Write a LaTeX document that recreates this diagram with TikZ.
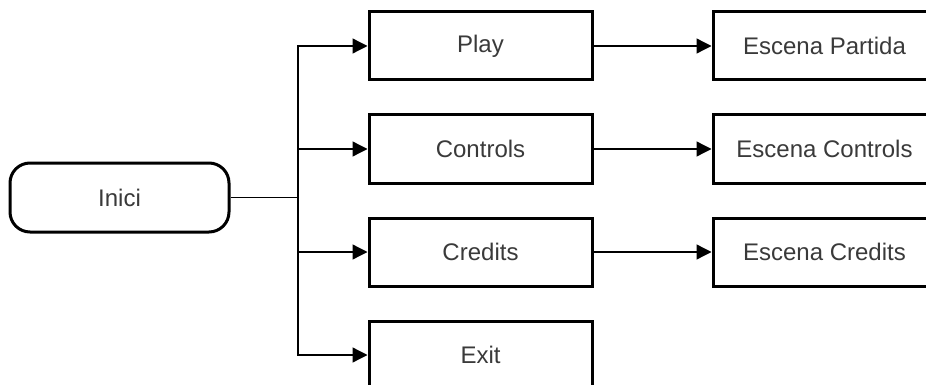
\documentclass[tikz,border=0pt]{standalone}
\usepackage{fontspec}
\setmainfont{Liberation Sans}
\usetikzlibrary{arrows.meta}
\definecolor{txt}{HTML}{3A3A3A}
\tikzset{
  box/.style={draw=black, line width=1.5pt, fill=white, minimum width=111.5pt, minimum height=34pt, inner sep=0pt, text=txt, font=\fontsize{12}{14}\selectfont},
  startbox/.style={box, rounded corners=10pt, minimum width=109.5pt, minimum height=34.5pt},
  conn/.style={draw=black, line width=0.65pt},
  arr/.style={conn, -{Triangle[length=7.5pt,width=7.5pt]}}
}
\begin{document}
\begin{tikzpicture}[x=0.5pt,y=-0.5pt]
\useasboundingbox (0,0) rectangle (926,385);
\clip (0,0) rectangle (926,385);
\node[startbox] (inici) at (119.5,197.5) {Inici};
\node[box] (play) at (480.5,46) {Play};
\node[box] (controls) at (480.5,149) {Controls};
\node[box] (credits) at (480.5,252) {Credits};
\node[box] (exit) at (480.5,355) {Exit};
\node[box] (epartida) at (824.5,46) {Escena Partida};
\node[box] (econtrols) at (824.5,149) {Escena Controls};
\node[box] (ecredits) at (824.5,252) {Escena Credits};
\coordinate (t) at (298,197.5);
\draw[conn] (inici.east) -- (t);
\draw[arr] (t) |- (play.west);
\draw[arr] (t) |- (controls.west);
\draw[arr] (t) |- (credits.west);
\draw[arr] (t) |- (exit.west);
\draw[arr] (play.east) -- (epartida.west);
\draw[arr] (controls.east) -- (econtrols.west);
\draw[arr] (credits.east) -- (ecredits.west);
\end{tikzpicture}
\end{document}
